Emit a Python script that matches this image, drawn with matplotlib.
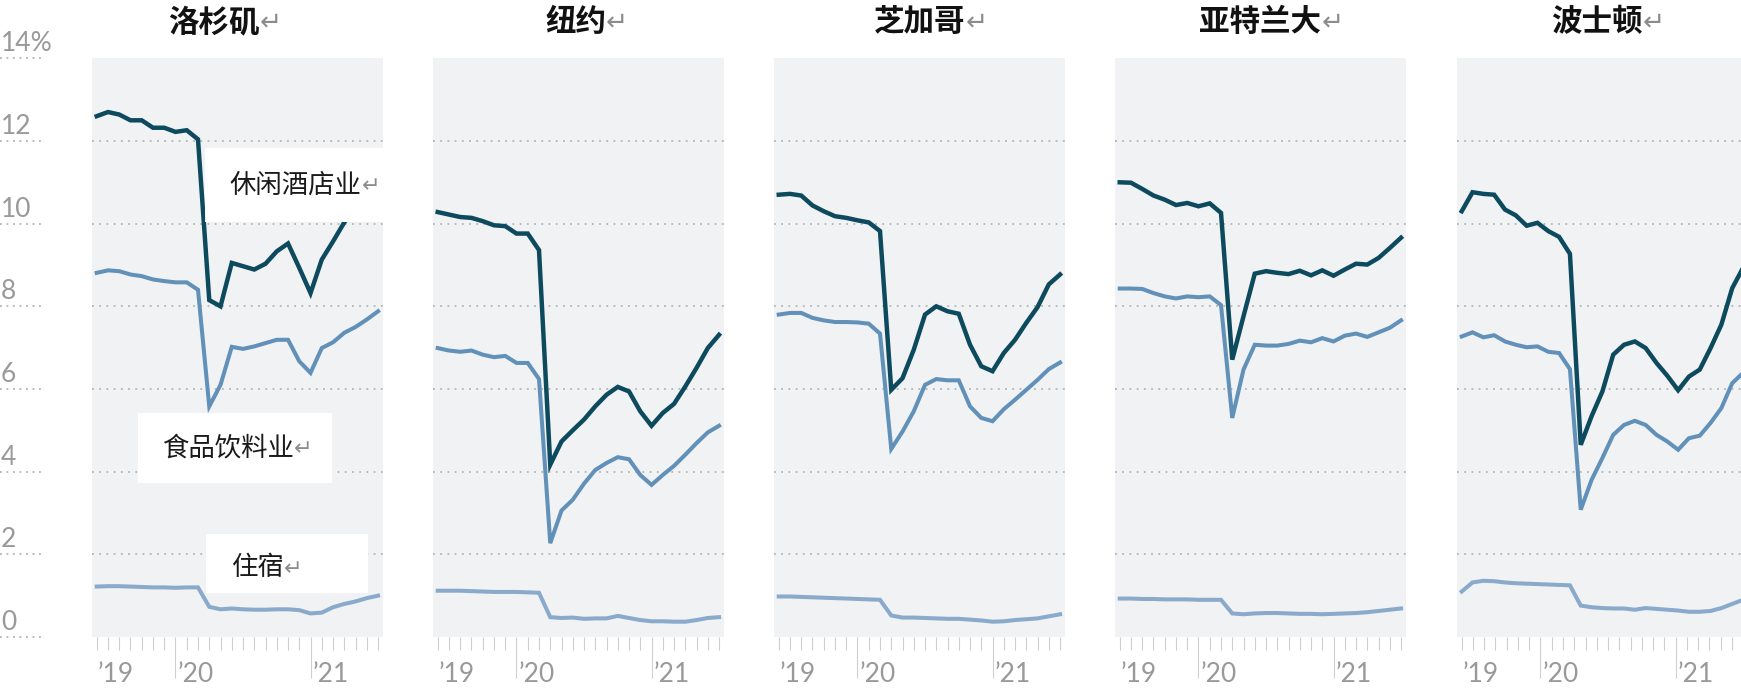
import matplotlib
matplotlib.use("Agg")
import matplotlib.pyplot as plt
import matplotlib.transforms as mtransforms
from matplotlib.patches import Rectangle
import numpy as np

plt.rcParams["font.family"] = ["Noto Sans CJK SC", "DejaVu Sans"]

# ---- data (share of all jobs, %) ----
cities = ["洛杉矶", "纽约", "芝加哥", "亚特兰大", "波士顿"]
sectors = ["休闲酒店业", "食品饮料业", "住宿"]

# monthly readings Jun 2019 - Jul 2021
months = np.arange(26)
# Boston packs May 2019 - Jul 2021 into the same width
bos_months = np.linspace(0, 25, 27)

year_tick_pos = [7, 19]
year_label_pos = [0.1, 7.2, 19.2]
year_labels = ["’19", "’20", "’21"]

y_ticks = [0, 2, 4, 6, 8, 10, 12, 14]
y_labels = ["0", "2", "4", "6", "8", "10", "12", "14%"]
grid_vals = [2, 4, 6, 8, 10, 12]

la_hosp = [12.60, 12.70, 12.64, 12.50, 12.50, 12.32, 12.32, 12.22, 12.26, 12.04,
           8.15, 8.00, 9.05, 8.97, 8.89, 9.03, 9.33, 9.52, 8.93, 8.32,
           9.13, 9.57, 10.03, 10.40, 10.75, 11.00]
la_food = [8.81, 8.87, 8.85, 8.77, 8.73, 8.65, 8.61, 8.58, 8.58, 8.40,
           5.58, 6.10, 7.02, 6.97, 7.03, 7.11, 7.19, 7.19, 6.67, 6.39,
           6.99, 7.13, 7.36, 7.50, 7.68, 7.88]
la_lodg = [1.22, 1.23, 1.23, 1.22, 1.21, 1.20, 1.20, 1.19, 1.20, 1.20,
           0.73, 0.67, 0.69, 0.67, 0.66, 0.66, 0.67, 0.67, 0.65, 0.57,
           0.59, 0.72, 0.80, 0.86, 0.94, 1.00]

ny_hosp = [10.28, 10.22, 10.16, 10.14, 10.06, 9.96, 9.94, 9.76, 9.76, 9.36,
           4.17, 4.73, 5.00, 5.26, 5.58, 5.86, 6.05, 5.94, 5.46, 5.11,
           5.42, 5.64, 6.06, 6.51, 6.99, 7.31]
ny_food = [6.99, 6.93, 6.90, 6.93, 6.83, 6.77, 6.80, 6.63, 6.63, 6.24,
           2.27, 3.06, 3.32, 3.71, 4.04, 4.21, 4.35, 4.30, 3.92, 3.68,
           3.92, 4.14, 4.41, 4.69, 4.95, 5.11]
ny_lodg = [1.12, 1.12, 1.12, 1.11, 1.10, 1.09, 1.09, 1.09, 1.08, 1.07,
           0.48, 0.46, 0.47, 0.44, 0.45, 0.45, 0.51, 0.46, 0.41, 0.38,
           0.38, 0.37, 0.37, 0.41, 0.46, 0.48]

chi_hosp = [10.70, 10.72, 10.68, 10.44, 10.30, 10.18, 10.14, 10.08, 10.03, 9.82,
            5.98, 6.26, 6.95, 7.80, 8.00, 7.88, 7.82, 7.07, 6.55, 6.43,
            6.87, 7.19, 7.60, 7.98, 8.53, 8.77]
chi_food = [7.80, 7.84, 7.84, 7.72, 7.66, 7.62, 7.62, 7.61, 7.58, 7.34,
            4.55, 4.97, 5.46, 6.10, 6.24, 6.21, 6.21, 5.58, 5.30, 5.22,
            5.51, 5.74, 5.98, 6.22, 6.48, 6.64]
chi_lodg = [0.98, 0.98, 0.97, 0.96, 0.95, 0.94, 0.93, 0.92, 0.91, 0.90,
            0.52, 0.47, 0.47, 0.46, 0.45, 0.44, 0.44, 0.42, 0.40, 0.37,
            0.38, 0.41, 0.43, 0.45, 0.50, 0.55]

atl_hosp = [11.00, 10.99, 10.84, 10.68, 10.58, 10.45, 10.50, 10.42, 10.49, 10.26,
            6.71, 7.76, 8.79, 8.85, 8.81, 8.78, 8.86, 8.75, 8.87, 8.74,
            8.89, 9.03, 9.01, 9.17, 9.41, 9.66]
atl_food = [8.43, 8.43, 8.42, 8.32, 8.24, 8.19, 8.24, 8.22, 8.24, 8.03,
            5.30, 6.47, 7.07, 7.05, 7.05, 7.09, 7.17, 7.13, 7.23, 7.15,
            7.29, 7.34, 7.26, 7.37, 7.48, 7.66]
atl_lodg = [0.93, 0.93, 0.92, 0.92, 0.91, 0.91, 0.91, 0.90, 0.90, 0.90,
            0.57, 0.55, 0.57, 0.58, 0.58, 0.57, 0.56, 0.56, 0.55, 0.56,
            0.57, 0.58, 0.60, 0.63, 0.66, 0.69]

bos_hosp = [10.30, 10.76, 10.72, 10.70, 10.34, 10.20, 9.95, 10.02, 9.82, 9.68,
            9.27, 4.65, 5.34, 5.94, 6.83, 7.07, 7.15, 6.99, 6.63, 6.32,
            5.97, 6.30, 6.47, 6.99, 7.56, 8.44, 8.93]
bos_food = [7.27, 7.37, 7.25, 7.30, 7.15, 7.07, 7.01, 7.03, 6.90, 6.87,
            6.48, 3.08, 3.80, 4.33, 4.89, 5.13, 5.23, 5.13, 4.89, 4.73,
            4.53, 4.81, 4.87, 5.18, 5.54, 6.14, 6.39]
bos_lodg = [1.10, 1.32, 1.36, 1.35, 1.32, 1.30, 1.29, 1.28, 1.27, 1.26,
            1.25, 0.76, 0.72, 0.70, 0.69, 0.69, 0.66, 0.70, 0.68, 0.66,
            0.64, 0.61, 0.61, 0.63, 0.70, 0.80, 0.90]

panels = [
    (months, la_hosp, la_food, la_lodg),
    (months, ny_hosp, ny_food, ny_lodg),
    (months, chi_hosp, chi_food, chi_lodg),
    (months, atl_hosp, atl_food, atl_lodg),
    (bos_months, bos_hosp, bos_food, bos_lodg),
]

# ---- style ----
W, H = 1741, 692
HOSP_C = "#0d4a5e"
FOOD_C = "#6190b8"
LODG_C = "#8aaacb"
BG = "#f0f2f4"
GRID_C = "#b4b4b4"
TICK_C = "#cfcfcf"
LABEL_C = "#999999"
NUM_FONT = ["Lato", "DejaVu Sans"]
NUM_SIZE = 19

fig = plt.figure(figsize=(W / 100, H / 100), dpi=100)

lefts = [92, 433, 774, 1115, 1457]
title_x = [0.42, 0.49, 0.50, 0.50, 0.48]
pw, top, bottom = 291, 58.3, 637

axes = []
for i, (x, hosp, food, lodg) in enumerate(panels):
    ax = fig.add_axes([lefts[i] / W, (H - bottom) / H, pw / W, (bottom - top) / H])
    ax.set_facecolor(BG)
    for s in ax.spines.values():
        s.set_visible(False)
    for g in grid_vals:
        ax.axhline(g, color=GRID_C, lw=1.3, ls=(0, (1, 3)), zorder=1)

    ax.plot(x, lodg, color=LODG_C, lw=2.9, zorder=3, solid_joinstyle="miter")
    ax.plot(x, food, color=FOOD_C, lw=2.9, zorder=3, solid_joinstyle="miter")
    ax.plot(x, hosp, color=HOSP_C, lw=3.2, zorder=4, solid_joinstyle="miter")

    ax.set_xlim(-0.42, 25.44)
    ax.set_ylim(0, 14)
    ax.set_yticks([])
    ax.set_xticks(year_tick_pos)
    ax.set_xticks(months, minor=True)
    ax.set_xticklabels([])
    ax.tick_params(axis="x", which="major", length=29.5, width=0.8, color=TICK_C)
    ax.tick_params(axis="x", which="minor", length=9.5, width=0.8, color=TICK_C)

    for xp, lab in zip(year_label_pos, year_labels):
        ax.text(xp, -0.064, lab, transform=ax.get_xaxis_transform(), ha="left", va="center",
                fontsize=NUM_SIZE, color=LABEL_C, family=NUM_FONT)

    t = ax.text(title_x[i], 1.062, cities[i], transform=ax.transAxes, ha="center", va="center",
                fontsize=22, fontweight="bold", color="#111111")
    ax.annotate("↵", xy=(1.0, 0.5), xycoords=t, ha="left", va="center",
                fontsize=19, color="#8c8c8c", family=["DejaVu Sans"])
    axes.append(ax)

# ---- y labels in left margin ----
ax0 = axes[0]
trans = mtransforms.blended_transform_factory(fig.transFigure, ax0.transData)
for v, lab in zip(y_ticks, y_labels):
    ax0.plot([0, 42 / W], [v, v], transform=trans, color=GRID_C, lw=1.3,
             ls=(0, (1, 2.6)), clip_on=False)
    ax0.text(1 / W, v, lab, transform=mtransforms.offset_copy(trans, fig=fig, y=2, units="dots"),
             ha="left", va="bottom", fontsize=NUM_SIZE, color=LABEL_C, family=NUM_FONT)

# ---- sector labels (LA panel) ----
boxes = [
    (sectors[0], (0.388, 0.717, 0.612, 0.128), (0.474, 0.781)),
    (sectors[1], (0.159, 0.266, 0.665, 0.121), (0.241, 0.326)),
    (sectors[2], (0.391, 0.076, 0.559, 0.102), (0.478, 0.120)),
]
for lab, (bx, by, bw, bh), (tx, ty) in boxes:
    ax0.add_patch(Rectangle((bx, by), bw, bh, transform=ax0.transAxes,
                            facecolor="white", edgecolor="none", zorder=6))
    t = ax0.text(tx, ty, lab, transform=ax0.transAxes, ha="left", va="center",
                 fontsize=19, color="#1a1a1a", zorder=7)
    ax0.annotate("↵", xy=(1.0, 0.45), xycoords=t, ha="left", va="center",
                 fontsize=16, color="#8c8c8c", family=["DejaVu Sans"], zorder=7)

fig.savefig("out.png", dpi=100)
